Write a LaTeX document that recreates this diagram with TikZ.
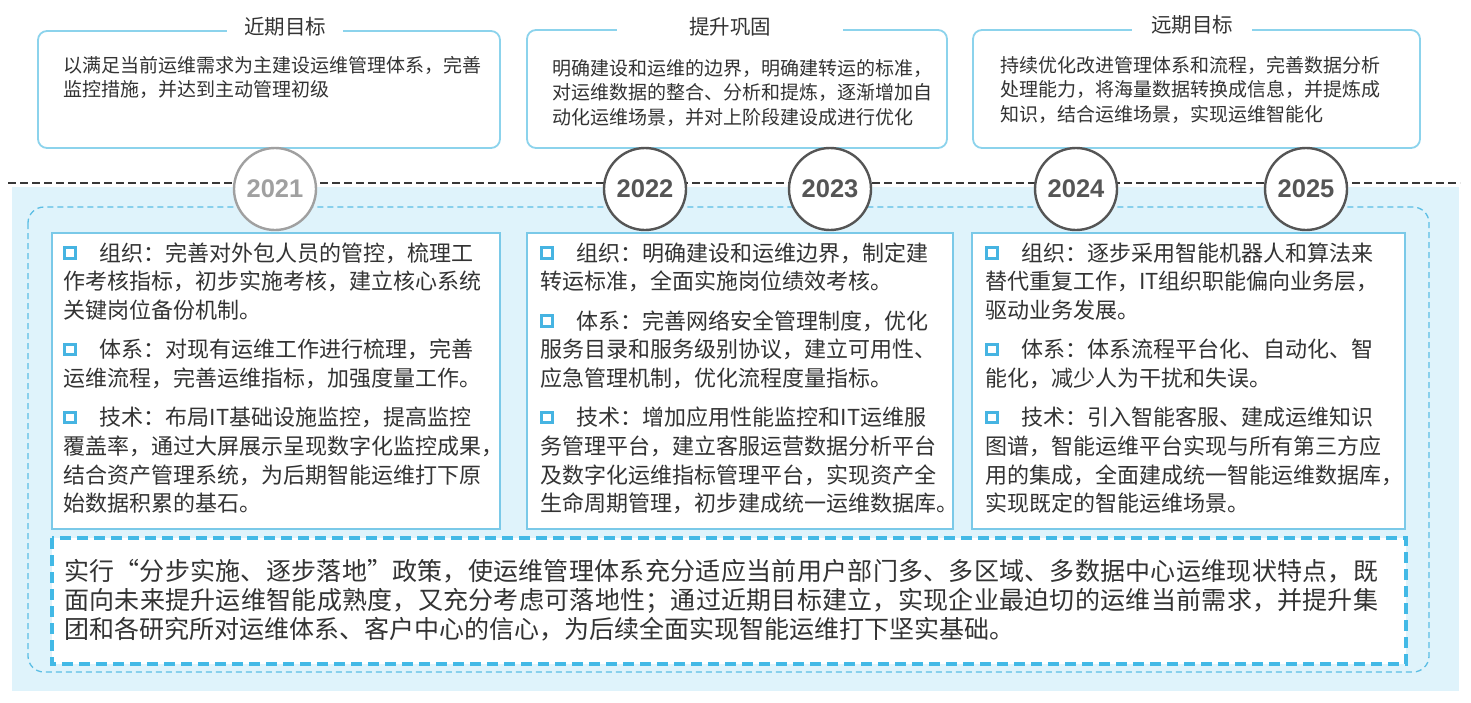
\documentclass[tikz,border=0pt]{standalone}
\usepackage{fontspec}
\setmainfont{Noto Sans CJK SC}
\newfontfamily\yearfont{Liberation Sans}
\definecolor{bgblue}{RGB}{223,243,251}
\definecolor{topline}{RGB}{140,211,236}
\definecolor{midline}{RGB}{122,201,232}
\definecolor{thickdash}{RGB}{66,185,230}
\definecolor{thindash}{RGB}{92,190,228}
\definecolor{bulletc}{RGB}{70,180,226}
\definecolor{txt}{RGB}{51,51,51}
\definecolor{yeardark}{RGB}{85,85,85}
\definecolor{yearlight}{RGB}{160,160,160}
\newcommand\bsq{\raisebox{4.5pt}{\textcolor{bulletc}{\fboxrule=3pt\fboxsep=0pt\fbox{\rule{0pt}{7.5pt}\rule{7.5pt}{0pt}}}}\hspace{23pt}}
\tikzset{
  topbox/.style={draw=topline, line width=1.8pt, fill=white, rounded corners=9pt},
  midbox/.style={draw=midline, line width=2.4pt, fill=white},
  toptitle/.style={fill=white, inner sep=0pt, minimum height=14pt, font=\fontsize{20.5}{24}\selectfont, text=txt},
  toptext/.style={anchor=north west, inner sep=0pt, align=left, text=txt, font=\fontsize{19}{24.5}\selectfont},
  midtext/.style={anchor=north west, inner sep=0pt, align=left, text=txt, font=\fontsize{22}{28.7}\selectfont},
  yearc/.style={circle, draw=yeardark, line width=2.4pt, fill=white, minimum size=82pt, inner sep=0pt, text=yeardark, font=\yearfont\bfseries\fontsize{25.5}{30}\selectfont},
  yearclight/.style={yearc, draw=yearlight, text=yearlight}
}
\begin{document}
\begin{tikzpicture}[x=1pt, y=-1pt]
\useasboundingbox (0,0) rectangle (1471,702);
% background band
\fill[bgblue] (12,187) rectangle (1459,691);
% timeline
\draw[draw=black!78, line width=2pt, dash pattern=on 8pt off 4pt] (8,183) -- (1460,183);
% outer thin dashed frame
\draw[draw=thindash, line width=1.3pt, dash pattern=on 6pt off 4pt, rounded corners=16pt] (28,207) rectangle (1429,672);
% top boxes
\draw[topbox] (38,31) rectangle (500,148);
\draw[topbox] (527,30) rectangle (947,148);
\draw[topbox] (973,30) rectangle (1420,148);
\node[toptitle, minimum width=116pt] (title1) at (285,27) {近期目标};
\node[toptitle, minimum width=226pt] (title2) at (730,27) {提升巩固};
\node[toptitle, minimum width=120pt] (title3) at (1192,25) {远期目标};
\node[toptext] (top1) at (63,53.2) {\rule{0pt}{19pt}以满足当前运维需求为主建设运维管理体系，完善\\监控措施，并达到主动管理初级};
\node[toptext] (top2) at (552,56.2) {\rule{0pt}{19pt}明确建设和运维的边界，明确建转运的标准，\\对运维数据的整合、分析和提炼，逐渐增加自\\动化运维场景，并对上阶段建设成进行优化};
\node[toptext] (top3) at (1000,53.2) {\rule{0pt}{19pt}持续优化改进管理体系和流程，完善数据分析\\处理能力，将海量数据转换成信息，并提炼成\\知识，结合运维场景，实现运维智能化};
% middle boxes
\draw[midbox] (52,233) rectangle (500,529);
\draw[midbox] (527,233) rectangle (953,529);
\draw[midbox] (972,233) rectangle (1405,529);
\node[midtext] (a1) at (63,239) {\rule{0pt}{22pt}\bsq 组织：完善对外包人员的管控，梳理工\\作考核指标，初步实施考核，建立核心系统\\关键岗位备份机制。};
\node[midtext] (a2) at (63,335.6) {\rule{0pt}{22pt}\bsq 体系：对现有运维工作进行梳理，完善\\运维流程，完善运维指标，加强度量工作。};
\node[midtext] (a3) at (63,403.5) {\rule{0pt}{22pt}\bsq 技术：布局IT基础设施监控，提高监控\\覆盖率，通过大屏展示呈现数字化监控成果，\\结合资产管理系统，为后期智能运维打下原\\始数据积累的基石。};
\node[midtext] (b1) at (540,239) {\rule{0pt}{22pt}\bsq 组织：明确建设和运维边界，制定建\\转运标准，全面实施岗位绩效考核。};
\node[midtext] (b2) at (540,306.9) {\rule{0pt}{22pt}\bsq 体系：完善网络安全管理制度，优化\\服务目录和服务级别协议，建立可用性、\\应急管理机制，优化流程度量指标。};
\node[midtext] (b3) at (540,403.5) {\rule{0pt}{22pt}\bsq 技术：增加应用性能监控和IT运维服\\务管理平台，建立客服运营数据分析平台\\及数字化运维指标管理平台，实现资产全\\生命周期管理，初步建成统一运维数据库。};
\node[midtext] (c1) at (985,239) {\rule{0pt}{22pt}\bsq 组织：逐步采用智能机器人和算法来\\替代重复工作，IT组织职能偏向业务层，\\驱动业务发展。};
\node[midtext] (c2) at (985,335.6) {\rule{0pt}{22pt}\bsq 体系：体系流程平台化、自动化、智\\能化，减少人为干扰和失误。};
\node[midtext] (c3) at (985,403.5) {\rule{0pt}{22pt}\bsq 技术：引入智能客服、建成运维知识\\图谱，智能运维平台实现与所有第三方应\\用的集成，全面建成统一智能运维数据库，\\实现既定的智能运维场景。};
% bottom box
\draw[draw=thickdash, line width=3.5pt, dash pattern=on 11pt off 6pt, fill=white] (52,538) rectangle (1406,664);
\node[anchor=north west, inner sep=0pt, text width=1314pt, align=justify, text=txt, font=\fontsize{25}{28.7}\selectfont] (bottom) at (64,555.5) {\XeTeXlinebreaklocale "zh"\XeTeXlinebreakskip=0pt plus 3pt\relax\rule{0pt}{25pt}实行“分步实施、逐步落地”政策，使运维管理体系充分适应当前用户部门多、多区域、多数据中心运维现状特点，既\linebreak 面向未来提升运维智能成熟度，又充分考虑可落地性；通过近期目标建立，实现企业最迫切的运维当前需求，并提升集\linebreak 团和各研究所对运维体系、客户中心的信心，为后续全面实现智能运维打下坚实基础。};
% year circles
\node[yearclight] (y2021) at (275,189) {2021};
\node[yearc] (y2022) at (645,189) {2022};
\node[yearc] (y2023) at (830,189) {2023};
\node[yearc] (y2024) at (1076,189) {2024};
\node[yearc] (y2025) at (1306,189) {2025};
\end{tikzpicture}
\end{document}
